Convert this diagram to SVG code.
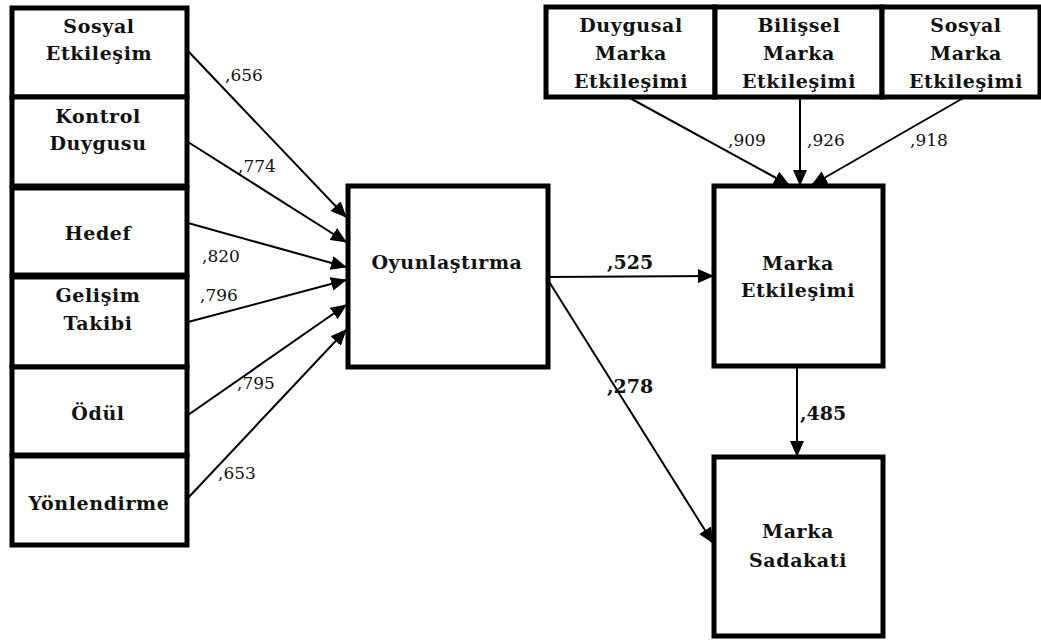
<svg xmlns="http://www.w3.org/2000/svg" width="1041" height="640" viewBox="0 0 1041 640">
<style>
.box{fill:#fff;stroke:#000;stroke-width:5}
.t{font-family:'DejaVu Serif',serif;font-weight:bold;font-size:19px;letter-spacing:0.6px;text-anchor:middle;fill:#111}
.l{font-family:'DejaVu Serif',serif;font-size:17px;fill:#111}
.lb{font-family:'DejaVu Serif',serif;font-size:19px;font-weight:bold;fill:#111}
.c{stroke:#000;stroke-width:2;fill:none;marker-end:url(#ah)}
</style>
<defs>
<marker id="ah" markerUnits="userSpaceOnUse" markerWidth="16" markerHeight="14" refX="15" refY="7" orient="auto">
<path d="M0,0 L16,7 L0,14 Z" fill="#000"/>
</marker>
</defs>
<g id="connectors">
<line class="c" x1="188" y1="51" x2="346" y2="217"/>
<line class="c" x1="188" y1="142" x2="346" y2="242"/>
<line class="c" x1="188" y1="223" x2="346" y2="267"/>
<line class="c" x1="188" y1="322" x2="346" y2="280"/>
<line class="c" x1="188" y1="415" x2="346" y2="305"/>
<line class="c" x1="188" y1="498" x2="346" y2="330"/>
<line class="c" x1="548" y1="277" x2="713" y2="276"/>
<line class="c" x1="548" y1="280" x2="713" y2="543"/>
<line class="c" x1="628" y1="97" x2="789" y2="185"/>
<line class="c" x1="800" y1="97" x2="800" y2="185"/>
<line class="c" x1="965" y1="97" x2="812" y2="185"/>
<line class="c" x1="797" y1="366" x2="797" y2="456"/>
<text class="l" x="225" y="81">,656</text>
<text class="l" x="238" y="172">,774</text>
<text class="l" x="202" y="262">,820</text>
<text class="l" x="200" y="301">,796</text>
<text class="l" x="237" y="389">,795</text>
<text class="l" x="218" y="479">,653</text>
<text class="l" x="728" y="146">,909</text>
<text class="l" x="807" y="146">,926</text>
<text class="l" x="910" y="146">,918</text>
<text class="lb" x="607" y="269">,525</text>
<text class="lb" x="607" y="393">,278</text>
<text class="lb" x="800" y="420">,485</text>
</g>
<g id="n-sosyal"><rect class="box" x="12" y="8" width="175" height="89"/><text class="t" x="99" y="33">Sosyal</text><text class="t" x="99" y="60">Etkileşim</text></g>
<g id="n-kontrol"><rect class="box" x="12" y="97" width="175" height="89"/><text class="t" x="98" y="123">Kontrol</text><text class="t" x="98" y="150">Duygusu</text></g>
<g id="n-hedef"><rect class="box" x="12" y="188" width="175" height="87"/><text class="t" x="98" y="240">Hedef</text></g>
<g id="n-gelisim"><rect class="box" x="12" y="277" width="175" height="90"/><text class="t" x="98" y="302">Gelişim</text><text class="t" x="98" y="330">Takibi</text></g>
<g id="n-odul"><rect class="box" x="12" y="367" width="175" height="88"/><text class="t" x="98" y="420">Ödül</text></g>
<g id="n-yonlendirme"><rect class="box" x="12" y="456" width="175" height="89"/><text class="t" x="99" y="510">Yönlendirme</text></g>
<g id="n-oyun"><rect class="box" x="348" y="186" width="200" height="181"/><text class="t" x="447" y="269">Oyunlaştırma</text></g>
<g id="n-duygusal"><rect class="box" x="546" y="7" width="169" height="90"/><text class="t" x="631" y="32">Duygusal</text><text class="t" x="631" y="60">Marka</text><text class="t" x="631" y="88">Etkileşimi</text></g>
<g id="n-bilissel"><rect class="box" x="715" y="7" width="167" height="90"/><text class="t" x="799" y="32">Bilişsel</text><text class="t" x="799" y="60">Marka</text><text class="t" x="799" y="88">Etkileşimi</text></g>
<g id="n-sosyalmarka"><rect class="box" x="882" y="7" width="158" height="90"/><text class="t" x="966" y="32">Sosyal</text><text class="t" x="966" y="60">Marka</text><text class="t" x="966" y="88">Etkileşimi</text></g>
<g id="n-marka-etk"><rect class="box" x="714" y="186" width="169" height="180"/><text class="t" x="798" y="270">Marka</text><text class="t" x="798" y="297">Etkileşimi</text></g>
<g id="n-sadakat"><rect class="box" x="714" y="457" width="169" height="179"/><text class="t" x="798" y="538">Marka</text><text class="t" x="798" y="567">Sadakati</text></g>
</svg>
